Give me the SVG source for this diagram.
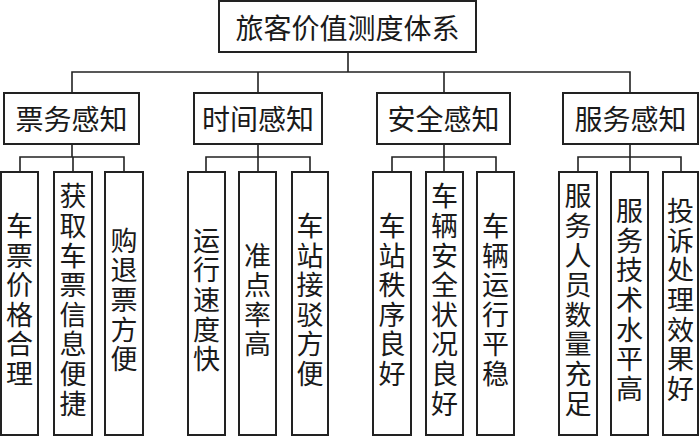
<svg xmlns="http://www.w3.org/2000/svg" width="700" height="436" viewBox="0 0 700 436">
<style>
.box{fill:#fff;stroke:#222;stroke-width:2}
.ln{fill:none;stroke:#222;stroke-width:1.6}
text{font-family:"Noto Sans CJK SC","Noto Sans CJK JP",sans-serif;font-size:28px;fill:#1a1a1a;text-anchor:middle;dominant-baseline:central}
.v{font-size:27px;writing-mode:vertical-rl;letter-spacing:2.6px}
</style>
<rect width="700" height="436" fill="#fff"/>
<g id="connectors">
<path class="ln" d="M348,52V72M72,93V72H630V93M258,72V93M444,72V93"/>
<path class="ln" d="M72,144V157M20,172V157H124V172M73,157V172"/>
<path class="ln" d="M258,144V157M206,172V157H310V172M258,157V172"/>
<path class="ln" d="M444,144V157M392,172V157H496V172M444,157V172"/>
<path class="ln" d="M630,144V157M578,172V157H681V172M630,157V172"/>
</g>
<g id="root"><rect class="box" x="219" y="1" width="257" height="51"/><text x="347.5" y="27">旅客价值测度体系</text></g>
<g id="n1"><rect class="box" x="4" y="93" width="135" height="51"/><text x="71.5" y="118">票务感知</text></g>
<g id="n2"><rect class="box" x="194" y="93" width="128" height="51"/><text x="258" y="118">时间感知</text></g>
<g id="n3"><rect class="box" x="377" y="93" width="133" height="51"/><text x="443.5" y="118">安全感知</text></g>
<g id="n4"><rect class="box" x="563" y="93" width="135" height="51"/><text x="630.5" y="118">服务感知</text></g>
<g id="l1"><rect class="box" x="1" y="172" width="37" height="263"/><text class="v" x="19.5" y="301">车票价格合理</text></g>
<g id="l2"><rect class="box" x="54" y="172" width="38" height="263"/><text class="v" x="73" y="301">获取车票信息便捷</text></g>
<g id="l3"><rect class="box" x="105" y="172" width="38" height="263"/><text class="v" x="124" y="301">购退票方便</text></g>
<g id="l4"><rect class="box" x="188" y="172" width="37" height="263"/><text class="v" x="206.5" y="301">运行速度快</text></g>
<g id="l5"><rect class="box" x="239" y="172" width="37" height="263"/><text class="v" x="257.5" y="301">准点率高</text></g>
<g id="l6"><rect class="box" x="292" y="172" width="36" height="263"/><text class="v" x="310" y="301">车站接驳方便</text></g>
<g id="l7"><rect class="box" x="373" y="172" width="38" height="263"/><text class="v" x="392" y="301">车站秩序良好</text></g>
<g id="l8"><rect class="box" x="426" y="172" width="37" height="263"/><text class="v" x="444.5" y="301">车辆安全状况良好</text></g>
<g id="l9"><rect class="box" x="477" y="172" width="37" height="263"/><text class="v" x="495.5" y="301">车辆运行平稳</text></g>
<g id="l10"><rect class="box" x="559" y="172" width="38" height="263"/><text class="v" x="578" y="301">服务人员数量充足</text></g>
<g id="l11"><rect class="box" x="611" y="172" width="37" height="263"/><text class="v" x="629.5" y="301">服务技术水平高</text></g>
<g id="l12"><rect class="box" x="663" y="172" width="35" height="263"/><text class="v" x="680.5" y="301">投诉处理效果好</text></g>
</svg>
